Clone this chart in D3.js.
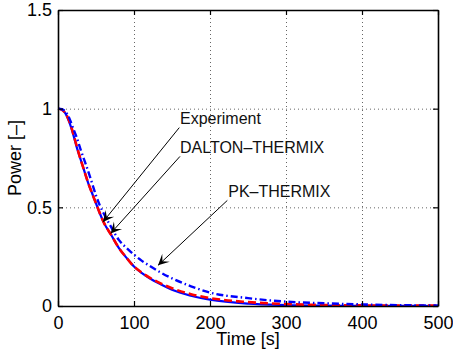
<!DOCTYPE html>
<html>
<head>
<meta charset="utf-8">
<script src="https://cdn.jsdelivr.net/npm/d3@7"></script>
<style>
  body { margin: 0; background: #fff; }
  svg { display: block; font-family: "Liberation Sans", Arial, sans-serif; }
</style>
</head>
<body>
<script>
// time axis [s] shared by all three curves
var times = [0, 5, 10, 15, 20, 25, 30, 35, 40, 45, 50, 55, 60, 70, 80, 90, 100, 110, 120, 135, 150, 175, 200, 250, 300, 350, 400, 450, 500];
var experiment = [1, 0.995, 0.975, 0.93, 0.87, 0.80, 0.74, 0.68, 0.62, 0.57, 0.52, 0.47, 0.425, 0.36, 0.295, 0.245, 0.2, 0.168, 0.142, 0.11, 0.082, 0.052, 0.032, 0.012, 0.005, 0.002, 0.001, 0.0005, 0];
var dalton = [1, 0.995, 0.975, 0.935, 0.875, 0.805, 0.74, 0.68, 0.62, 0.57, 0.52, 0.47, 0.425, 0.36, 0.295, 0.245, 0.2, 0.17, 0.145, 0.115, 0.09, 0.06, 0.04, 0.02, 0.01, 0.005, 0.003, 0.002, 0.002];
var pk = [1, 0.997, 0.985, 0.95, 0.9, 0.85, 0.79, 0.735, 0.68, 0.62, 0.56, 0.51, 0.47, 0.40, 0.335, 0.295, 0.26, 0.23, 0.205, 0.17, 0.14, 0.1, 0.068, 0.04, 0.022, 0.014, 0.008, 0.004, 0.003];

var xTicks = [0, 100, 200, 300, 400, 500];
var yTicks = [0, 0.5, 1, 1.5];

// annotation arrows in data units: text anchor, tail, tip
var notes = [
  { label: "Experiment",     tx: 160.5, ty: 0.924, x0: 159.6, y0: 0.904, x1: 59.2,  y1: 0.426 },
  { label: "DALTON\u2013THERMIX", tx: 160.5, ty: 0.777, x0: 160.5, y0: 0.758, x1: 69.3,  y1: 0.368 },
  { label: "PK\u2013THERMIX",     tx: 224,   ty: 0.552, x0: 222.8, y0: 0.535, x1: 131.6, y1: 0.206 }
];

var W = 453, H = 353;
var x = d3.scaleLinear().domain([0, 500]).range([58, 438]);
var y = d3.scaleLinear().domain([0, 1.5]).range([306, 10]);

var svg = d3.select("body").append("svg")
    .attr("width", W).attr("height", H);

// grid
var grid = svg.append("g")
    .attr("stroke", "#666").attr("stroke-width", 1)
    .attr("stroke-dasharray", "1,3");
grid.selectAll(".gx").data(xTicks.slice(1, -1)).enter().append("line")
    .attr("x1", function(d){ return x(d) + 0.5; }).attr("x2", function(d){ return x(d) + 0.5; })
    .attr("y1", y(1.5)).attr("y2", y(0));
grid.selectAll(".gy").data(yTicks.slice(1, -1)).enter().append("line")
    .attr("y1", function(d){ return y(d) + 0.5; }).attr("y2", function(d){ return y(d) + 0.5; })
    .attr("x1", x(0)).attr("x2", x(500));

// curves
var line = d3.line()
    .x(function(d){ return x(d[0]); })
    .y(function(d){ return y(d[1]); })
    .curve(d3.curveMonotoneX);

function pts(vals){ return times.map(function(t, i){ return [t, vals[i]]; }); }

svg.append("path").attr("d", line(pts(experiment)))
    .attr("fill", "none").attr("stroke", "#0000ff").attr("stroke-width", 2.2);
svg.append("path").attr("d", line(pts(dalton)))
    .attr("fill", "none").attr("stroke", "#ff0000").attr("stroke-width", 2.6)
    .attr("stroke-dasharray", "8,4");
svg.append("path").attr("d", line(pts(pk)))
    .attr("fill", "none").attr("stroke", "#0000ff").attr("stroke-width", 2.4)
    .attr("stroke-dasharray", "7,3,1.5,3");

// axes box with inward ticks
var axisColor = "#000";
var xb = svg.append("g").attr("transform", "translate(0," + y(0) + ")")
    .call(d3.axisBottom(x).tickValues(xTicks).tickSizeInner(-5).tickSizeOuter(0).tickPadding(10).tickFormat(d3.format("d")));
var xt = svg.append("g").attr("transform", "translate(0," + y(1.5) + ")")
    .call(d3.axisTop(x).tickValues(xTicks).tickSizeInner(-5).tickSizeOuter(0).tickFormat(""));
var yl = svg.append("g").attr("transform", "translate(" + x(0) + ",0)")
    .call(d3.axisLeft(y).tickValues(yTicks).tickSizeInner(-5).tickSizeOuter(0).tickPadding(6).tickFormat(function(d){ return d3.format("")(d); }));
var yr = svg.append("g").attr("transform", "translate(" + x(500) + ",0)")
    .call(d3.axisRight(y).tickValues(yTicks).tickSizeInner(-5).tickSizeOuter(0).tickFormat(""));

[xb, xt, yl, yr].forEach(function(a){
  a.select(".domain").attr("stroke", axisColor).attr("stroke-width", 1.6);
  a.selectAll(".tick line").attr("stroke", axisColor).attr("stroke-width", 1.2);
  a.selectAll("text").attr("font-size", 18).attr("fill", "#000")
    .attr("font-family", "Liberation Sans, Arial, sans-serif");
});

// axis labels
svg.append("text").attr("x", (x(0) + x(500)) / 2).attr("y", 345)
    .attr("text-anchor", "middle").attr("font-size", 18).text("Time [s]");
svg.append("text").attr("transform", "translate(21," + y(0.75) + ") rotate(-90)")
    .attr("text-anchor", "middle").attr("font-size", 18).text("Power [\u2013]");

// annotations
var ann = svg.append("g");
notes.forEach(function(n){
  var ax = x(n.x0), ay = y(n.y0), bx = x(n.x1), by = y(n.y1);
  ann.append("line").attr("x1", ax).attr("y1", ay).attr("x2", bx).attr("y2", by)
      .attr("stroke", "#000").attr("stroke-width", 1);
  var ang = Math.atan2(by - ay, bx - ax), L = 11, Wd = 5.5, notch = 6;
  var ux = Math.cos(ang), uy = Math.sin(ang), px = -uy, py = ux;
  var head = [
    [bx, by],
    [bx - L * ux + Wd * px, by - L * uy + Wd * py],
    [bx - notch * ux, by - notch * uy],
    [bx - L * ux - Wd * px, by - L * uy - Wd * py]
  ];
  ann.append("path").attr("d", "M" + head.join("L") + "Z").attr("fill", "#000");
  ann.append("text").attr("x", x(n.tx)).attr("y", y(n.ty))
      .attr("font-size", 16).attr("fill", "#111").text(n.label);
});
</script>
</body>
</html>
